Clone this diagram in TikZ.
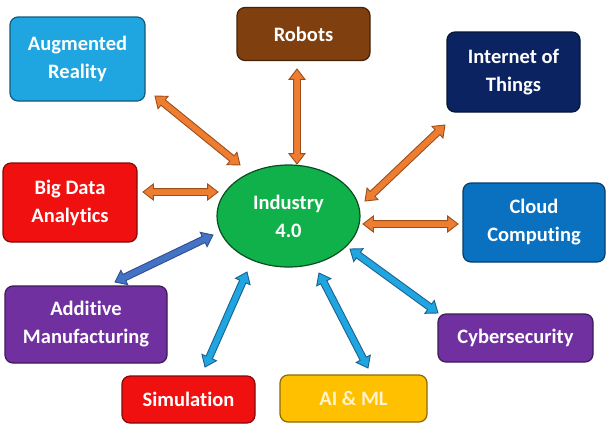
\documentclass[tikz,border=0pt]{standalone}
\usepackage{fontspec}
\setmainfont{Carlito}[Ligatures=NoCommon]
\usetikzlibrary{shapes.geometric,shapes.arrows,calc}
\definecolor{arblue}{HTML}{1FA6E0}
\definecolor{robbrown}{HTML}{7F3F0F}
\definecolor{iotnavy}{HTML}{0B2461}
\definecolor{cloudblue}{HTML}{0A70C0}
\definecolor{cyberpurple}{HTML}{7030A0}
\definecolor{aiyellow}{HTML}{FFC000}
\definecolor{simred}{HTML}{F01010}
\definecolor{indgreen}{HTML}{10B04A}
\definecolor{arrorange}{HTML}{ED7D31}
\definecolor{arrorangeline}{HTML}{9E4E1A}
\definecolor{arrdark}{HTML}{4472C4}
\definecolor{arrdarkline}{HTML}{2F4F8F}
\definecolor{arrlight}{HTML}{1FA6E0}
\definecolor{arrlightline}{HTML}{1E5F8E}
\tikzset{
  topic/.style={rounded corners=8pt, draw=#1!55!black, fill=#1, line width=1.2pt,
    text=white, font=\fontsize{20.5}{28}\selectfont\bfseries, align=center, inner sep=0pt},
  hub/.style={ellipse, draw=indgreen!45!black, fill=indgreen, line width=1.2pt,
    text=white, font=\fontsize{20.5}{28}\selectfont\bfseries, align=center,
    minimum width=143pt, minimum height=102pt, inner sep=0pt},
  fatarrow/.style 2 args={double arrow, draw=#2, fill=#1, line width=0.9pt,
    inner xsep=0pt, inner ysep=3pt, minimum width=0pt, double arrow head extend=4.5pt,
    double arrow tip angle=75, double arrow head indent=0pt}
}
\newcommand{\linkarrow}[4]{%
  \path let \p1=($(#2)-(#1)$), \n1={veclen(\x1,\y1)}, \n2={atan2(\y1,\x1)} in
    node[fatarrow={#3}{#4}, minimum height=\n1, rotate=\n2] at ($(#1)!0.5!(#2)$) {};}
\begin{document}
\begin{tikzpicture}[x=1pt,y=-1pt]
\useasboundingbox[fill=white] (0,0) rectangle (607,429);
\node[topic=arblue, minimum width=135pt, minimum height=84pt] (ar) at (77.5,59) {Augmented\\Reality};
\node[topic=robbrown, minimum width=133pt, minimum height=53pt] (rob) at (303.5,34) {Robots};
\node[topic=iotnavy, minimum width=133pt, minimum height=80pt] (iot) at (513.5,72) {Internet of\\Things};
\node[topic=cloudblue, minimum width=142pt, minimum height=79pt] (cloud) at (534,222.5) {Cloud\\Computing};
\node[topic=cyberpurple, minimum width=155pt, minimum height=48pt] (cyber) at (515.5,338) {Cybersecurity};
\node[topic=aiyellow, text=aiyellow!20!white, minimum width=147pt, minimum height=47pt] (aiml) at (353.5,398.5) {AI \& ML};
\node[topic=simred, minimum width=133pt, minimum height=47pt] (sim) at (188.5,399.5) {Simulation};
\node[topic=cyberpurple, minimum width=162pt, minimum height=77pt] (add) at (86,324.5) {Additive\\Manufacturing};
\node[topic=simred, minimum width=134pt, minimum height=79pt] (big) at (70,202.5) {Big Data\\Analytics};
\node[hub] (ind) at (288.5,216) {Industry\\4.0};
% arrow end points
\coordinate (arA) at (155,96);   \coordinate (arB) at (240,165);
\coordinate (robA) at (297,69);  \coordinate (robB) at (297,164);
\coordinate (iotA) at (445,125); \coordinate (iotB) at (365,201);
\coordinate (bigA) at (143,192); \coordinate (bigB) at (218,192);
\coordinate (clA) at (363,224);  \coordinate (clB) at (458,224);
\coordinate (addA) at (115,282); \coordinate (addB) at (213,235);
\coordinate (simA) at (205,367); \coordinate (simB) at (247,272);
\coordinate (aiA) at (319,273);  \coordinate (aiB) at (368,368);
\coordinate (cyA) at (350,249);  \coordinate (cyB) at (438,313);
\linkarrow{arA}{arB}{arrorange}{arrorangeline}
\linkarrow{robA}{robB}{arrorange}{arrorangeline}
\linkarrow{iotA}{iotB}{arrorange}{arrorangeline}
\linkarrow{bigA}{bigB}{arrorange}{arrorangeline}
\linkarrow{clA}{clB}{arrorange}{arrorangeline}
\linkarrow{addA}{addB}{arrdark}{arrdarkline}
\linkarrow{simA}{simB}{arrlight}{arrlightline}
\linkarrow{aiA}{aiB}{arrlight}{arrlightline}
\linkarrow{cyA}{cyB}{arrlight}{arrlightline}
\end{tikzpicture}
\end{document}
